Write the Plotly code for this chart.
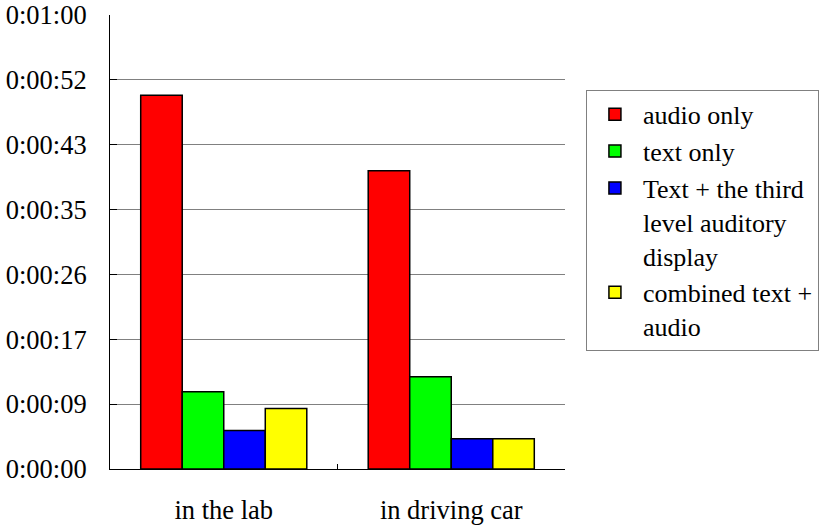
import plotly.graph_objects as go

categories = ["in the lab", "in driving car"]
series_names = ["audio only", "text only",
                "Text + the third<br>level auditory<br>display",
                "combined text +<br>audio"]
series_colors = ["#ff0000", "#00ff00", "#0000ff", "#ffff00"]
# values in seconds
audio_only = [49.4, 39.4]
text_only = [10.2, 12.2]
text_third_level = [5.1, 4.0]
combined = [8.0, 4.0]
series_values = [audio_only, text_only, text_third_level, combined]

tick_values = [0, 60/7, 120/7, 180/7, 240/7, 300/7, 360/7, 60]
tick_labels = ["0:00:00", "0:00:09", "0:00:17", "0:00:26", "0:00:35",
               "0:00:43", "0:00:52", "0:01:00"]

font_family = "Liberation Serif, Tinos, Times New Roman, DejaVu Serif, serif"
fs = 26.5

fig = go.Figure()
for name, vals, col in zip(series_names, series_values, series_colors):
    fig.add_trace(go.Bar(x=categories, y=vals, name=name,
                         marker=dict(color=col, line=dict(color="black", width=1.5))))

fig.update_layout(
    width=822, height=531,
    margin=dict(l=110, r=257, t=15, b=62, autoexpand=False),
    paper_bgcolor="white", plot_bgcolor="white",
    barmode="group", bargap=0.27, bargroupgap=0,
    font=dict(family=font_family, size=fs, color="black"),
    legend=dict(x=1.046, y=0.835, xanchor="left", yanchor="top",
                bordercolor="#808080", borderwidth=1, bgcolor="white",
                font=dict(family=font_family, size=26),
                traceorder="normal", itemwidth=46, valign="top",
                entrywidth=200),
    showlegend=True,
)
fig.update_xaxes(showline=True, linecolor="black", linewidth=1,
                 ticks="inside", ticklen=5, tickcolor="black",
                 tickson="boundaries", showgrid=False, automargin=False,
                 ticklabelstandoff=17,
                 tickfont=dict(family=font_family, size=fs))
fig.update_yaxes(range=[0, 60], tickvals=tick_values, ticktext=tick_labels,
                 showline=True, linecolor="black", linewidth=1,
                 ticks="inside", ticklen=7, tickcolor="black",
                 showgrid=True, gridcolor="#808080", gridwidth=1,
                 zeroline=False, ticklabelstandoff=17, automargin=False,
                 tickfont=dict(family=font_family, size=fs))

post = """
document.body.style.margin='0';
var gd = document.getElementById('{plot_id}');
try {
  document.fonts.load('26px "Liberation Serif"').then(function(){ Plotly.redraw(gd); });
} catch (e) {}
setTimeout(function(){ Plotly.redraw(gd); }, 50);
"""

fig.write_html("out.html", config={"displayModeBar": False}, post_script=post)
